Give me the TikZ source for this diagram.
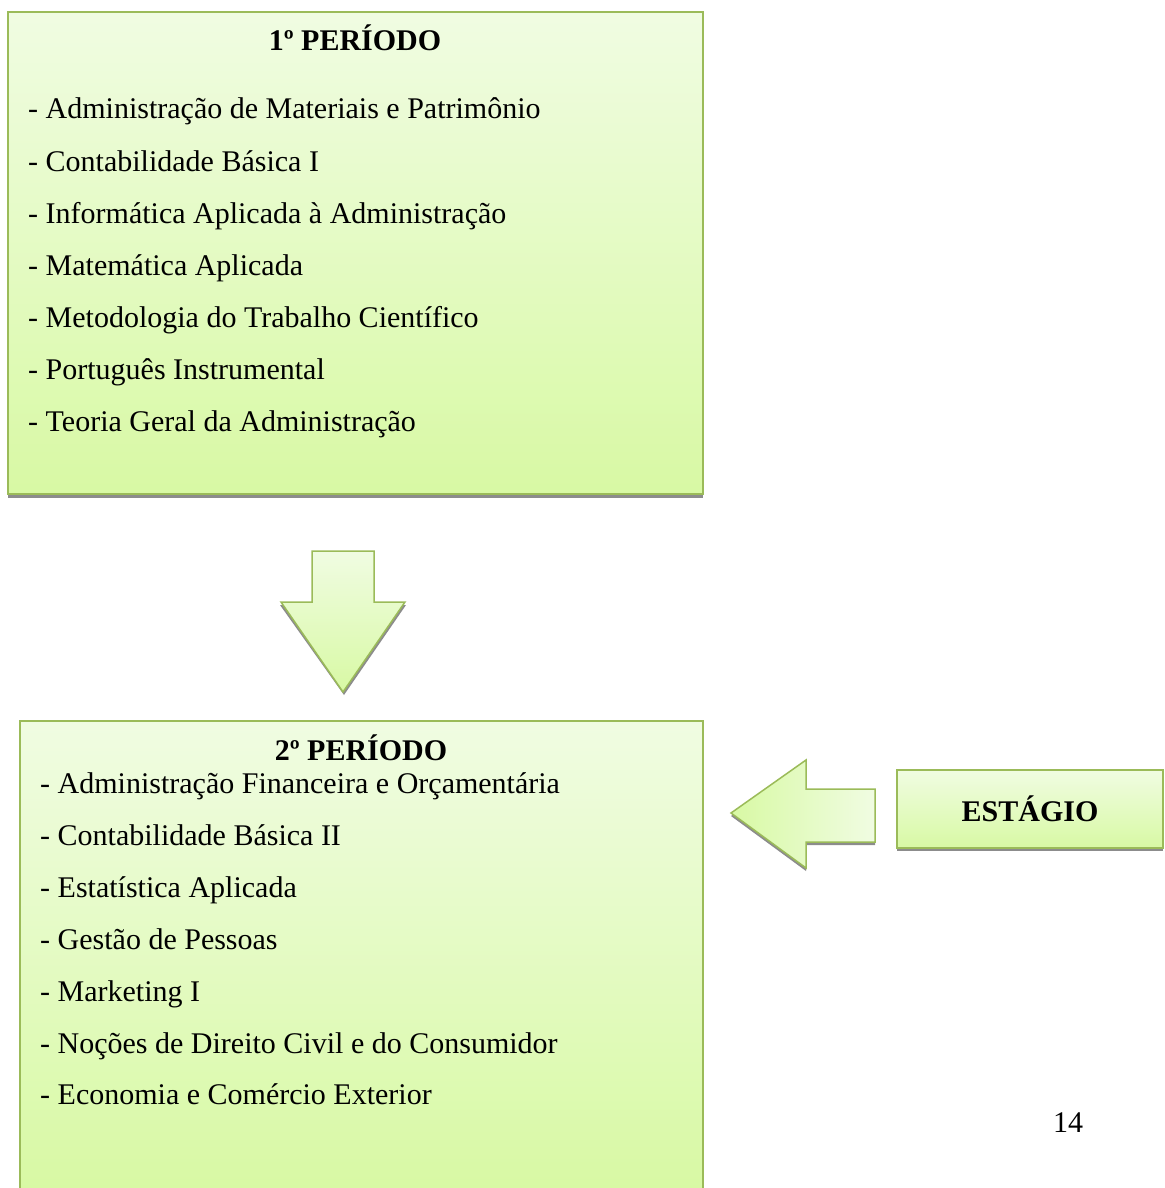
\documentclass[tikz,border=0pt]{standalone}
\usepackage{fontspec}
\setmainfont{Liberation Serif}
\definecolor{topg}{HTML}{F0FCE2}
\definecolor{botg}{HTML}{D8F9A4}
\definecolor{edgeg}{HTML}{9BBB59}
\definecolor{shad}{HTML}{8C8C8C}
\tikzset{
  greenbox/.style={draw=edgeg,line width=2pt,top color=topg,bottom color=botg},
  item/.style={anchor=base west,inner sep=0pt,font=\fontsize{30}{36}\selectfont},
  title/.style={anchor=base,inner sep=0pt,font=\fontsize{30}{36}\selectfont\bfseries},
}
\begin{document}
\begin{tikzpicture}[x=1pt,y=-1pt]
\useasboundingbox (0,0) rectangle (1164,1188);
% box 1
\fill[shad] (8,494) rectangle (703,498);
\draw[greenbox] (8,12) rectangle (703,494);
\node[title] (t1) at (355,51) {1º PERÍODO};
\node[item] (a1) at (28,119) {- Administração de Materiais e Patrimônio};
\node[item] (a2) at (28,171) {- Contabilidade Básica I};
\node[item] (a3) at (28,223) {- Informática Aplicada à Administração};
\node[item] (a4) at (28,275) {- Matemática Aplicada};
\node[item] (a5) at (28,327) {- Metodologia do Trabalho Científico};
\node[item] (a6) at (28,379) {- Português Instrumental};
\node[item] (a7) at (28,431) {- Teoria Geral da Administração};
% down arrow
\fill[shad] (312,554) -- (374,554) -- (374,605) -- (406,605) -- (344,695) -- (280,605) -- (312,605) -- cycle;
\draw[greenbox,line width=1.5pt] (312,551) -- (374,551) -- (374,602) -- (405,602) -- (343,692) -- (281,602) -- (312,602) -- cycle;
% box 2 (open at bottom)
\fill[top color=topg,bottom color=botg] (20,721) rectangle (703,1188);
\draw[draw=edgeg,line width=2pt] (20,1190) -- (20,721) -- (703,721) -- (703,1190);
\node[title] (t2) at (361,760) {2º PERÍODO};
\node[item] (b1) at (40,793) {- Administração Financeira e Orçamentária};
\node[item] (b2) at (40,845) {- Contabilidade Básica II};
\node[item] (b3) at (40,897) {- Estatística Aplicada};
\node[item] (b4) at (40,949) {- Gestão de Pessoas};
\node[item] (b5) at (40,1001) {- Marketing I};
\node[item] (b6) at (40,1053) {- Noções de Direito Civil e do Consumidor};
\node[item] (b7) at (40,1104) {- Economia e Comércio Exterior};
% left arrow
\fill[shad] (875,792) -- (806,792) -- (806,763) -- (731,816) -- (806,871) -- (806,845) -- (875,845) -- cycle;
\draw[draw=edgeg,line width=1.5pt,left color=botg,right color=topg] (875,789) -- (806,789) -- (806,760) -- (731,813) -- (806,868) -- (806,842) -- (875,842) -- cycle;
% estagio box
\fill[shad] (897,848) rectangle (1163,851);
\draw[greenbox] (897,770) rectangle (1163,848);
\node[title] (e) at (1030,821) {ESTÁGIO};
% page number
\node[anchor=base,inner sep=0pt,font=\fontsize{30}{36}\selectfont] (pg) at (1068,1132) {14};
\end{tikzpicture}
\end{document}
